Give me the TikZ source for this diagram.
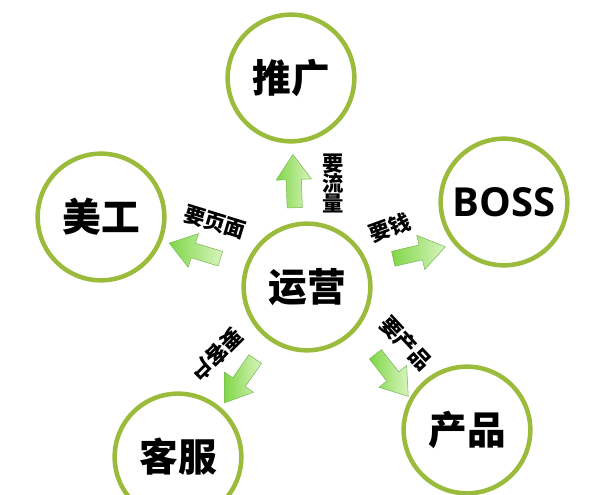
\documentclass[tikz,border=0pt]{standalone}
\usepackage{fontspec}
\setsansfont{Open Sans}
\newfontfamily\cjk{Noto Sans CJK SC}
\usetikzlibrary{shapes, arrows, positioning}
\definecolor{ringgreen}{RGB}{155,187,60}
\definecolor{arrowdark}{RGB}{128,214,72}
\definecolor{arrowlight}{RGB}{216,245,190}
\definecolor{arrowline}{RGB}{122,184,84}

\begin{document}
\begin{tikzpicture}[x=0.75pt, y=0.75pt, font=\cjk\bfseries,
    role/.style={draw=ringgreen, line width=3.4pt, circle, minimum size=95pt, inner sep=0pt, on grid,
      font=\cjk\bfseries\fontsize{29}{29}\selectfont},
    need/.style={single arrow, draw=arrowline, line width=0.4pt, left color=arrowdark, right color=arrowlight,
      minimum height=40pt, inner xsep=0pt, inner ysep=5.5pt, single arrow head extend=7.5pt,
      single arrow tip angle=70},
    ask/.style={font=\cjk\bfseries\fontsize{16}{16}\selectfont, inner sep=0pt}]
    \useasboundingbox (0,0) rectangle (614,495);

    \node[role] (yy) at (307,208) {运营};
    \node[role, above left=156.75pt and 12pt of yy] (tg) {推广};
    \node[role, above left=52.5pt and 154.5pt of yy] (mg) {美工};
    \node[role, above right=63.75pt and 147.75pt of yy, font=\sffamily\bfseries\fontsize{30}{30}\selectfont] (boss) {BOSS};
    \node[role, below left=127.5pt and 96.75pt of yy] (kf) {客服};
    \node[role, below right=107.25pt and 120pt of yy] (cp) {产品};

    \node[need, rotate=92] (a-tg) at (294,308.5) {};
    \node[need, rotate=13] (a-boss) at (414,241) {};
    \node[need, rotate=163] (a-mg) at (200,242.5) {};
    \node[need, rotate=235] (a-kf) at (243,118.5) {};
    \node[need, rotate=-52] (a-cp) at (388.5,124) {};

    \node[ask, align=center] (l-tg) at (333,312) {要\\[-1pt]流\\[-1pt]量};
    \node[ask, rotate=20] (l-boss) at (390,267) {要钱};
    \node[ask, rotate=-17] (l-mg) at (215,273) {要页面};
    \node[ask, rotate=225] (l-kf) at (217,140) {要客户};
    \node[ask, rotate=-47] (l-cp) at (406,152) {要产品};
\end{tikzpicture}
\end{document}
